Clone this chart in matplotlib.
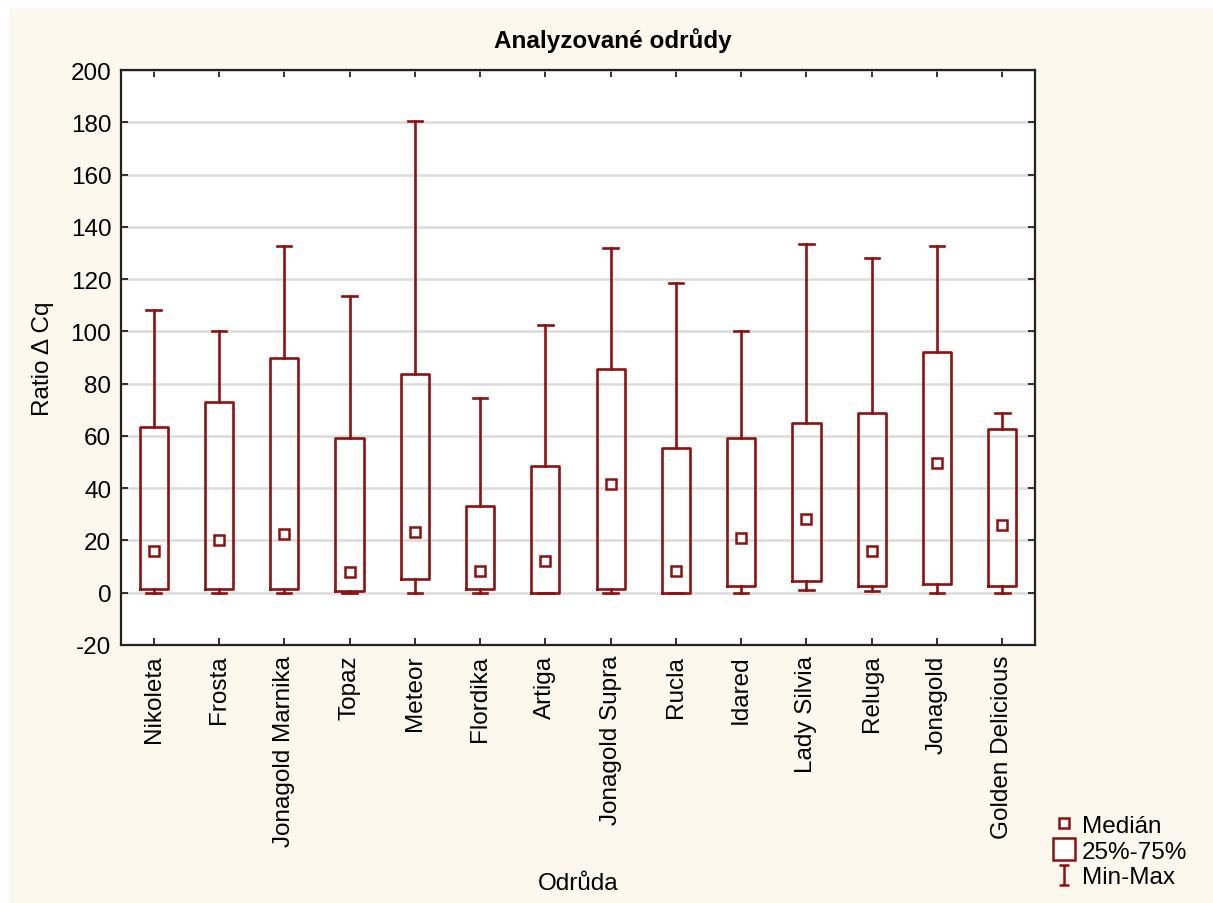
import matplotlib
matplotlib.use("Agg")
import matplotlib.pyplot as plt
from matplotlib.lines import Line2D
from matplotlib.path import Path
from matplotlib.patches import Rectangle

plt.rcParams['font.family'] = ['Liberation Sans', 'DejaVu Sans']

categories = ["Nikoleta", "Frosta", "Jonagold Marnika", "Topaz", "Meteor", "Flordika",
              "Artiga", "Jonagold Supra", "Rucla", "Idared", "Lady Silvia", "Reluga",
              "Jonagold", "Golden Delicious"]
mins    = [0, 0, 0, 0, 0, 0, 0, 0, 0, 0, 1, 0.5, 0, 0]
q1      = [1.5, 1.5, 1.5, 0.5, 5.2, 1.5, 0, 1.5, 0, 2.5, 4.5, 2.5, 3.5, 2.5]
medians = [16, 20.3, 22.5, 8, 23.2, 8.5, 12.2, 41.5, 8.5, 21, 28.3, 16, 49.7, 26]
q3      = [63.5, 73, 90, 59.2, 83.5, 33.2, 48.6, 85.6, 55.4, 59.2, 65, 68.7, 92.2, 62.5]
maxs    = [108.2, 100, 132.6, 113.6, 180.5, 74.6, 102.5, 132, 118.5, 100.2, 133.5, 128, 132.6, 68.6]

yticks = list(range(-20, 201, 20))

C = '#8c1212'
LW = 1.9

fig = plt.figure(figsize=(12.13, 9.04), dpi=100, facecolor='white')
fig.patches.append(Rectangle((10/1213, 0), 1, 1 - 9/904, transform=fig.transFigure,
                             facecolor='#fdf8ee', edgecolor='none', zorder=-10))
ax = fig.add_axes([121/1213, 1 - 646/904, (1035 - 121)/1213, (646 - 71)/904])
ax.set_facecolor('white')

stats = []
for i, c in enumerate(categories):
    stats.append(dict(label=c, med=medians[i], q1=q1[i], q3=q3[i],
                      whislo=mins[i], whishi=maxs[i], fliers=[]))
pos = list(range(len(categories)))
ax.bxp(stats, positions=pos, widths=0.43, showfliers=False,
       boxprops=dict(color=C, linewidth=LW),
       whiskerprops=dict(color=C, linewidth=LW),
       capprops=dict(color=C, linewidth=LW),
       medianprops=dict(linewidth=0), capwidths=0.22, zorder=3)
ax.plot(pos, medians, linestyle='none', marker='s', markersize=7.5,
        markerfacecolor='white', markeredgecolor=C, markeredgewidth=1.8, zorder=4)

ax.set_xlim(-0.5, len(categories) - 0.5)
ax.set_ylim(-20, 200)
ax.set_yticks(yticks)
ax.set_yticklabels([str(t) for t in yticks])
ax.set_xticks(pos)
ax.set_xticklabels(categories, rotation=90)
ax.tick_params(axis='both', direction='in', length=5, width=1.3, labelsize=17.5,
               top=True, right=True, pad=7, color='#222222')
ax.yaxis.grid(True, color='#dcdcdc', linewidth=1.8, zorder=0)
ax.set_axisbelow(True)
for sp in ax.spines.values():
    sp.set_linewidth(1.6)
    sp.set_color('#222222')

fig.text(613/1213, 1 - 41/904, "Analyzované odrůdy", ha='center', va='center',
         fontsize=17.5, fontweight='bold')
ax.set_ylabel("Ratio Δ Cq", fontsize=17.5, labelpad=12)
fig.text(578/1213, 1 - 884/904, "Odrůda", ha='center', va='center', fontsize=17.5)

minmax_path = Path([(-0.5, 1), (0.5, 1), (0, 1), (0, -1), (-0.5, -1), (0.5, -1)],
                   [Path.MOVETO, Path.LINETO, Path.MOVETO, Path.LINETO, Path.MOVETO, Path.LINETO])
handles = [
    Line2D([], [], linestyle='none', marker='s', markersize=7.5, markerfacecolor='white',
           markeredgecolor=C, markeredgewidth=1.8),
    Line2D([], [], linestyle='none', marker='s', markersize=16, markerfacecolor='white',
           markeredgecolor=C, markeredgewidth=1.8),
    Line2D([], [], linestyle='none', marker=minmax_path, markersize=15, markerfacecolor='none',
           markeredgecolor=C, markeredgewidth=1.8),
]
leg = fig.legend(handles, ["Medián", "25%-75%", "Min-Max"], loc='lower left',
                 bbox_to_anchor=(1042/1213, 1 - 899/904), frameon=False, fontsize=17.5,
                 handlelength=1.0, handletextpad=0.25, labelspacing=0.15, borderaxespad=0)

fig.savefig("out.png", dpi=100, facecolor=fig.get_facecolor())
